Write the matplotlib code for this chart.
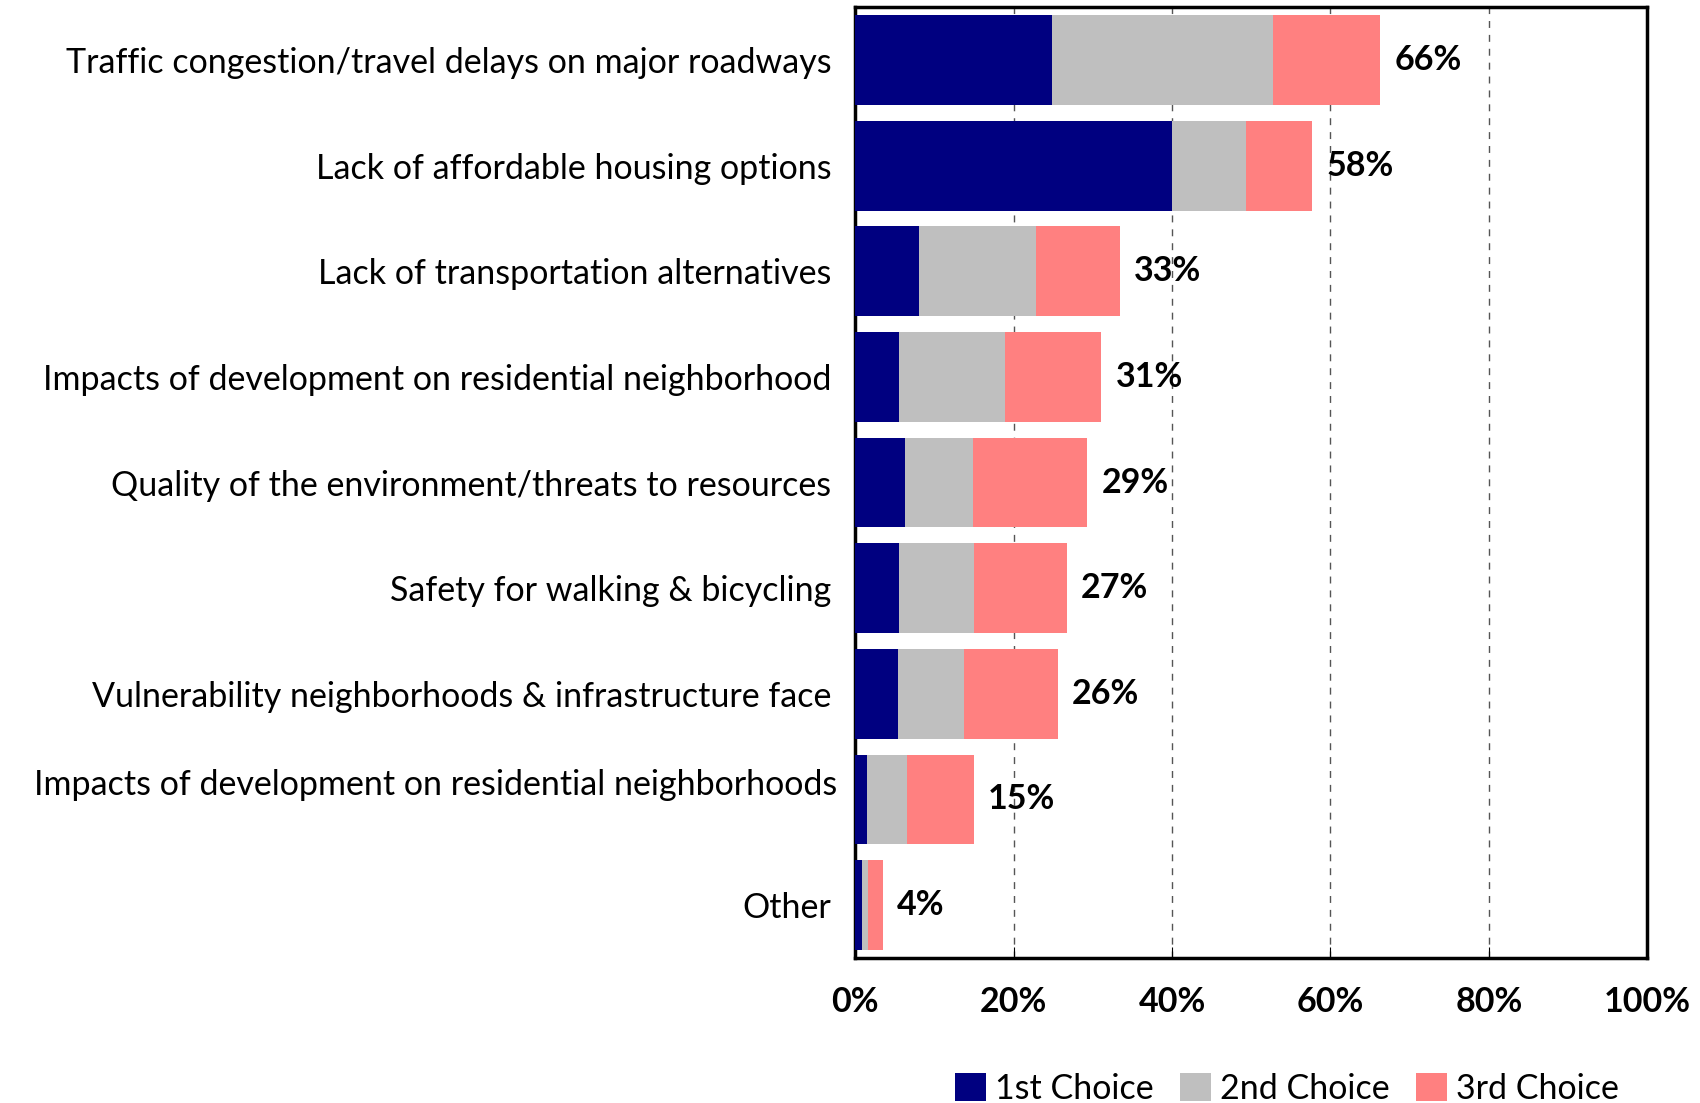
import numpy as np
import matplotlib
matplotlib.use("Agg")
import matplotlib.pyplot as plt
from matplotlib.transforms import ScaledTranslation

# ── data (top row first) ────────────────────────────────────────────────────
categories = [
    "Traffic congestion/travel delays on major roadways",
    "Lack of affordable housing options",
    "Lack of transportation alternatives",
    "Impacts of development on residential neighborhood",
    "Quality of the environment/threats to resources",
    "Safety for walking & bicycling",
    "Vulnerability neighborhoods & infrastructure face",
    "Impacts of development on residential neighborhoods",
    "Other",
]
first_choice = [24.8, 40.0, 8.1, 5.5, 6.3, 5.5, 5.4, 1.5, 0.9]
second_choice = [27.9, 9.4, 14.7, 13.4, 8.6, 9.5, 8.4, 5.0, 0.7]
third_choice = [13.6, 8.3, 10.6, 12.2, 14.4, 11.7, 11.8, 8.5, 1.9]
total_labels = ["66%", "58%", "33%", "31%", "29%", "27%", "26%", "15%", "4%"]
series_names = ["1st Choice", "2nd Choice", "3rd Choice"]
x_ticks = [0, 20, 40, 60, 80, 100]

_NAVY = "#000080"
_GRAY = "#BFBFBF"
_PINK = "#FF8080"

plt.rcParams["font.family"] = ["Lato", "DejaVu Sans"]
FS = 24.5

fig = plt.figure(figsize=(17, 11.03), dpi=100)
ax = fig.add_axes([0.503, 0.1315, 0.466, 0.862])

y = np.arange(len(categories))
a = np.array(first_choice)
b = np.array(second_choice)
c = np.array(third_choice)
h = 0.85
ax.barh(y, a, height=h, color=_NAVY, label=series_names[0], zorder=3)
ax.barh(y, b, left=a, height=h, color=_GRAY, label=series_names[1], zorder=3)
ax.barh(y, c, left=a + b, height=h, color=_PINK, label=series_names[2], zorder=3)

for yi, tot, lab in zip(y, a + b + c, total_labels):
    ax.text(tot + 1.8, yi, lab, va="center", ha="left", fontsize=FS,
            fontweight="bold", zorder=4)

ax.set_xlim(0, 100)
ax.set_ylim(len(categories) - 0.5, -0.5)
ax.set_xticks(x_ticks)
ax.set_xticklabels([f"{t}%" for t in x_ticks], fontsize=FS, fontweight="bold")
ax.set_yticks(y)
ax.set_yticklabels(categories, fontsize=FS)
ax.tick_params(axis="y", length=0, pad=17)
ax.tick_params(axis="x", direction="in", length=8, width=0.8, pad=20)

ax.grid(axis="x", color="#555555", linestyle=(0, (5, 5)), linewidth=1.0, zorder=1)
for spine in ax.spines.values():
    spine.set_linewidth(2.5)
    spine.set_color("black")

# the second "Impacts..." label sits a bit higher and further right
lbl = ax.get_yticklabels()[7]
lbl.set_transform(lbl.get_transform() + ScaledTranslation(0.06, 0.17, fig.dpi_scale_trans))

handles, labels = ax.get_legend_handles_labels()
fig.legend(handles, labels, loc="center", bbox_to_anchor=(0.757, 0.013), ncol=3,
           frameon=False, fontsize=FS, handlelength=0.9, handleheight=0.9,
           handletextpad=0.25, columnspacing=0.8, borderpad=0)

fig.savefig("out.png", dpi=100)
